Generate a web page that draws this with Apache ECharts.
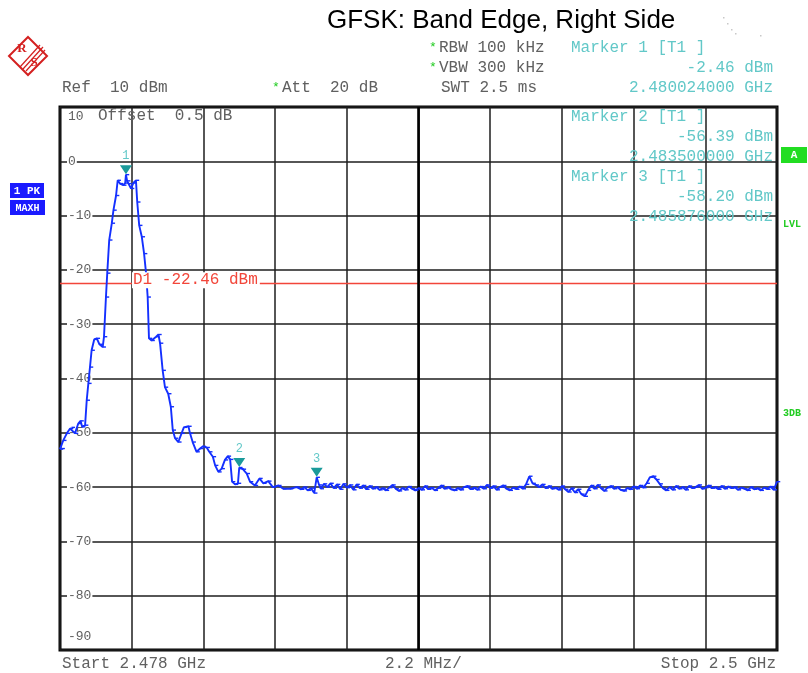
<!DOCTYPE html>
<html>
<head>
<meta charset="utf-8">
<script src="https://cdn.jsdelivr.net/npm/echarts@6/dist/echarts.min.js"></script>
<style>
html,body{margin:0;padding:0;background:#fff;}
#chart{width:808px;height:673px;}
</style>
</head>
<body>
<div id="chart"></div>
<script>
// ---------- data ----------
const chartTitle = 'GFSK: Band Edge, Right Side';
const startMHz = 2478;
const stopMHz = 2500;
const refLevel = 10;
const bottomLevel = -90;
const dbPerDiv = 10;
const freqDivisions = 10;

// main lobe + skirts [MHz, dBm]
const traceMain = [
  [2478.00,-53.0],[2478.05,-52.9],[2478.10,-51.4],[2478.21,-50.1],[2478.31,-49.2],
  [2478.36,-49.0],[2478.46,-50.1],[2478.56,-48.3],[2478.63,-47.8],[2478.68,-48.9],
  [2478.77,-48.6],[2478.82,-44.0],[2478.87,-40.9],[2478.92,-37.9],[2478.97,-34.8],
  [2479.05,-32.8],[2479.13,-32.6],[2479.21,-33.7],[2479.31,-34.2],[2479.35,-32.3],
  [2479.41,-25.0],[2479.45,-20.6],[2479.51,-14.5],[2479.59,-11.4],[2479.64,-9.0],
  [2479.72,-6.3],[2479.77,-3.5],[2479.84,-4.1],[2479.94,-4.4],[2480.00,-4.0],
  [2480.024,-2.46],[2480.06,-3.6],[2480.10,-4.1],[2480.18,-5.0],[2480.25,-4.0],
  [2480.33,-3.5],[2480.37,-7.5],[2480.43,-11.8],[2480.51,-13.9],[2480.58,-17.0],
  [2480.64,-20.6],[2480.69,-25.0],[2480.73,-32.6],[2480.81,-33.0],[2480.95,-32.3],
  [2481.02,-31.9],[2481.07,-33.5],[2481.15,-38.5],[2481.22,-41.6],[2481.32,-42.8],
  [2481.40,-45.2],[2481.46,-49.5],[2481.53,-51.0],[2481.63,-51.7],[2481.73,-50.1],
  [2481.80,-49.0],[2481.94,-48.8],[2481.99,-50.1],[2482.07,-51.7],[2482.19,-53.5],
  [2482.30,-52.9],[2482.38,-52.5],[2482.50,-52.7],[2482.58,-53.5],[2482.69,-54.4],
  [2482.76,-56.0],[2482.86,-57.2],[2482.96,-56.6],[2483.06,-55.0],[2483.15,-54.3],
  [2483.22,-54.9],[2483.28,-59.0],[2483.37,-59.5],[2483.46,-59.3],[2483.50,-56.39],
  [2483.53,-56.6],[2483.61,-56.7],[2483.73,-57.5],[2483.83,-59.0],[2483.98,-59.7],
  [2484.12,-58.4],[2484.24,-59.3],[2484.39,-58.9],[2484.53,-60.0],[2484.70,-59.7],
  [2484.85,-60.3],[2485.06,-60.3],[2485.26,-60.0]
];

// noise floor [MHz, dBm]
const traceFloor = [
  [2485.4,-60.4],[2485.5,-60.0],[2485.6,-60.6],[2485.7,-60.2],[2485.8,-61.1],
  [2485.876,-58.2],[2485.95,-59.6],[2486.0,-60.3],[2486.1,-59.4],[2486.2,-60.0],
  [2486.3,-59.3],[2486.4,-60.2],[2486.5,-59.5],[2486.6,-60.4],[2486.7,-59.4],
  [2486.8,-60.1],[2486.9,-59.6],[2487.0,-60.5],[2487.1,-59.5],[2487.2,-60.2],
  [2487.3,-59.7],[2487.4,-60.4],[2487.5,-59.8],[2487.6,-60.3],[2487.7,-60.0],
  [2487.8,-60.5],[2487.9,-60.2],[2488.0,-60.6],[2488.1,-60.1],[2488.2,-59.6],
  [2488.3,-60.3],[2488.4,-60.7],[2488.5,-60.2],[2488.6,-60.5],[2488.7,-59.9],
  [2488.8,-60.3],[2488.9,-60.6],[2489.0,-60.2],[2489.1,-60.5],[2489.2,-59.8],
  [2489.3,-60.4],[2489.4,-60.1],[2489.5,-60.6],[2489.6,-60.2],[2489.7,-59.7],
  [2489.8,-60.3],[2489.9,-60.0],[2490.0,-60.4],[2490.1,-60.6],[2490.2,-60.2],
  [2490.3,-60.5],[2490.4,-60.0],[2490.5,-59.8],[2490.6,-60.4],[2490.7,-60.1],
  [2490.8,-60.5],[2490.9,-59.9],[2491.0,-60.3],[2491.1,-59.6],[2491.2,-60.2],
  [2491.3,-59.8],[2491.4,-60.5],[2491.5,-60.0],[2491.6,-59.7],[2491.7,-60.3],
  [2491.8,-60.6],[2491.9,-60.1],[2492.0,-60.4],[2492.1,-59.9],[2492.2,-60.3],
  [2492.3,-59.5],[2492.4,-58.0],[2492.5,-59.3],[2492.6,-59.6],[2492.7,-60.0],
  [2492.8,-59.5],[2492.9,-60.2],[2493.0,-59.8],[2493.1,-60.3],[2493.2,-60.1],
  [2493.3,-60.5],[2493.4,-59.8],[2493.5,-60.4],[2493.6,-60.9],[2493.7,-60.2],
  [2493.8,-61.0],[2493.9,-60.4],[2494.0,-61.3],[2494.1,-61.7],[2494.2,-60.6],
  [2494.3,-59.7],[2494.4,-60.3],[2494.5,-59.6],[2494.6,-60.2],[2494.7,-60.7],
  [2494.8,-60.1],[2494.9,-59.8],[2495.0,-60.3],[2495.1,-60.0],[2495.2,-60.5],
  [2495.3,-60.7],[2495.4,-60.2],[2495.5,-60.4],[2495.6,-59.9],[2495.7,-60.3],
  [2495.8,-59.7],[2495.9,-60.1],[2496.0,-59.3],[2496.1,-58.2],[2496.2,-58.0],
  [2496.3,-58.6],[2496.4,-59.4],[2496.5,-60.2],[2496.6,-60.6],[2496.7,-60.0],
  [2496.8,-60.5],[2496.9,-59.8],[2497.0,-60.3],[2497.1,-60.0],[2497.2,-60.5],
  [2497.3,-59.8],[2497.4,-60.2],[2497.5,-60.0],[2497.6,-59.6],[2497.7,-60.3],
  [2497.8,-60.1],[2497.9,-59.7],[2498.0,-60.2],[2498.1,-60.0],[2498.2,-60.4],
  [2498.3,-59.8],[2498.4,-60.3],[2498.5,-59.9],[2498.6,-60.2],[2498.7,-60.0],
  [2498.8,-60.5],[2498.9,-60.1],[2499.0,-60.3],[2499.1,-60.6],[2499.2,-60.0],
  [2499.3,-60.4],[2499.4,-60.2],[2499.5,-60.6],[2499.6,-60.1],[2499.7,-60.4],
  [2499.8,-59.9],[2499.9,-60.5],[2500.0,-59.0]
];

const markerNames = ['1','2','3'];
const markerFreqMHz = [2480.024, 2483.5, 2485.876];
const markerLevels = [-2.46, -56.39, -58.20];
const displayLineLevel = -22.46;
const centerFreqMHz = 2489;

// header / annotation texts
const headerTexts = {
  rbw: 'RBW 100 kHz', vbw: 'VBW 300 kHz', ref: 'Ref  10 dBm', att: 'Att  20 dB', swt: 'SWT 2.5 ms',
  offset: 'Offset  0.5 dB', start: 'Start 2.478 GHz', span: '2.2 MHz/', stop: 'Stop 2.5 GHz'
};
const markerTexts = [
  ['Marker 1 [T1 ]', '-2.46 dBm', '2.480024000 GHz'],
  ['Marker 2 [T1 ]', '-56.39 dBm', '2.483500000 GHz'],
  ['Marker 3 [T1 ]', '-58.20 dBm', '2.485876000 GHz']
];

// ---------- chart ----------
const MONO = '"Liberation Mono", "DejaVu Sans Mono", monospace';
const GRAY = '#606060';
const TEAL = '#62c8c8';
const chart = echarts.init(document.getElementById('chart'), null, {renderer: 'canvas'});

const option = {
  animation: false,
  backgroundColor: '#ffffff',
  grid: {left: 60, right: 31, top: 107, bottom: 23, show: true, borderColor: '#000', borderWidth: 3, backgroundColor: '#fff', z: 0},
  xAxis: [
    {type: 'value', min: startMHz, max: stopMHz, show: true,
      axisLine: {show: false}, axisTick: {show: false}, axisLabel: {show: false}, splitLine: {show: false}},
    {type: 'value', min: 0, max: freqDivisions, interval: 1, show: true,
      axisLine: {show: false}, axisTick: {show: false}, axisLabel: {show: false},
      splitLine: {show: true, lineStyle: {color: '#1e1e1e', width: 1.5}}}
  ],
  yAxis: {
    type: 'value', min: bottomLevel, max: refLevel, interval: dbPerDiv,
    axisLine: {show: false}, axisTick: {show: false},
    splitLine: {show: true, lineStyle: {color: '#1e1e1e', width: 1.5}},
    axisLabel: {
      inside: true, margin: 7,
      formatter: function (v) {
        if (v === refLevel) return '{t|' + v + '}';
        if (v === bottomLevel) return '{b|' + v + '}';
        return '{n|' + v + '}';
      },
      rich: {
        n: {fontFamily: MONO, fontSize: 13, color: GRAY, backgroundColor: '#fff', padding: [0, 1, 0, 1]},
        t: {fontFamily: MONO, fontSize: 13, color: GRAY, padding: [20, 0, 0, 1]},
        b: {fontFamily: MONO, fontSize: 13, color: GRAY, padding: [0, 0, 26, 1]}
      }
    },
    z: 1
  },
  series: [{
    type: 'line',
    xAxisIndex: 0,
    data: traceMain.concat(traceFloor),
    showSymbol: true,
    symbol: 'rect',
    symbolSize: [3.5, 1.4],
    symbolOffset: [1.5, 0],
    itemStyle: {color: '#1430ff'},
    lineStyle: {color: '#1430ff', width: 1.9},
    z: 5,
    markLine: {
      silent: true,
      symbol: 'none',
      label: {show: false},
      data: [
        {yAxis: displayLineLevel, lineStyle: {color: '#f2463a', width: 1.4, type: 'solid'}},
        {xAxis: centerFreqMHz, lineStyle: {color: '#000', width: 2.6, type: 'solid'}}
      ],
      z: 3
    },
    markPoint: {
      symbol: 'triangle',
      symbolRotate: 180,
      symbolSize: [12, 9],
      symbolOffset: [0, -5],
      itemStyle: {color: '#1a9a9a'},
      label: {show: true, position: 'top', distance: 3, formatter: '{b}', color: TEAL, fontFamily: MONO, fontSize: 12},
      data: markerNames.map((n, i) => ({name: n, coord: [markerFreqMHz[i], markerLevels[i]]})),
      z: 6
    }
  }]
};
chart.setOption(option);

// ---------- annotations ----------
const dlPix = chart.convertToPixel({xAxisIndex: 0, yAxisIndex: 0}, [startMHz, displayLineLevel]);
function txt(x, y, text, opts) {
  opts = opts || {};
  return {type: 'text', x: x, y: y, z: opts.z || 50, silent: true,
    style: Object.assign({text: text, fontFamily: MONO, fontSize: 16, fill: GRAY, align: 'left', verticalAlign: 'middle'}, opts.style || {})};
}
const g = [];
// title
g.push(txt(327, 21, chartTitle, {style: {fontFamily: '"Liberation Sans", Arial, sans-serif', fontSize: 26, fill: '#000'}}));
// faint specks top-right
[[723,17],[727,23],[731,29],[735,33],[760,35]].forEach(p => g.push({type:'rect', shape:{x:p[0],y:p[1],width:1.5,height:1.5}, style:{fill:'#c8c8c8'}, silent:true}));
// header rows
g.push(txt(429, 48, '*', {style: {fill: '#22cc22', fontSize: 13}}));
g.push(txt(439, 48, headerTexts.rbw));
g.push(txt(429, 68, '*', {style: {fill: '#22cc22', fontSize: 13}}));
g.push(txt(439, 68, headerTexts.vbw));
g.push(txt(62, 88, headerTexts.ref));
g.push(txt(272, 88, '*', {style: {fill: '#22cc22', fontSize: 13}}));
g.push(txt(282, 88, headerTexts.att));
g.push(txt(441, 88, headerTexts.swt));
// marker readouts
const mRows = [[48, 68, 88], [117, 137, 157], [177, 197, 217]];
markerTexts.forEach((m, i) => {
  g.push(txt(571, mRows[i][0], m[0], {style: {fill: TEAL}}));
  g.push(txt(773, mRows[i][1], m[1], {style: {fill: TEAL, align: 'right'}}));
  g.push(txt(773, mRows[i][2], m[2], {style: {fill: TEAL, align: 'right'}}));
});
// offset
g.push(txt(98, 116, headerTexts.offset));
// display line label
g.push(txt(132, dlPix[1] - 3, 'D1 -22.46 dBm', {style: {fill: '#f2463a', backgroundColor: '#fff', padding: [0, 2, 0, 1]}}));
// footer
g.push(txt(62, 664, headerTexts.start));
g.push(txt(385, 664, headerTexts.span));
g.push(txt(776, 664, headerTexts.stop, {style: {align: 'right'}}));
// left trace boxes
g.push({type: 'rect', shape: {x: 10, y: 183, width: 34, height: 15}, style: {fill: '#1a1aff'}, silent: true});
g.push(txt(27, 191, '1 PK', {style: {fill: '#fff', fontSize: 11, fontWeight: 'bold', align: 'center'}}));
g.push({type: 'rect', shape: {x: 10, y: 200, width: 35, height: 15}, style: {fill: '#1a1aff'}, silent: true});
g.push(txt(27.5, 208, 'MAXH', {style: {fill: '#fff', fontSize: 10, fontWeight: 'bold', align: 'center'}}));
// right status
g.push({type: 'rect', shape: {x: 781, y: 147, width: 26, height: 16}, style: {fill: '#22dd22'}, silent: true});
g.push(txt(794, 155, 'A', {style: {fill: '#fff', fontSize: 11, fontWeight: 'bold', align: 'center'}}));
g.push(txt(783, 224, 'LVL', {style: {fill: '#22cc22', fontSize: 10, fontWeight: 'bold'}}));
g.push(txt(783, 413, '3DB', {style: {fill: '#22cc22', fontSize: 10, fontWeight: 'bold'}}));
// R&S logo
g.push({type: 'polygon', shape: {points: [[28, 37], [47, 56], [28, 75], [9, 56]]}, style: {fill: 'none', stroke: '#d42020', lineWidth: 2}, silent: true});
g.push({type: 'line', shape: {x1: 20, y1: 67, x2: 40, y2: 45}, style: {stroke: '#d42020', lineWidth: 1.2}, silent: true});
g.push({type: 'line', shape: {x1: 23, y1: 69, x2: 43, y2: 47}, style: {stroke: '#d42020', lineWidth: 1.2}, silent: true});
g.push({type: 'line', shape: {x1: 26, y1: 71, x2: 45, y2: 50}, style: {stroke: '#d42020', lineWidth: 1.2}, silent: true});
g.push(txt(22, 49, 'R', {style: {fill: '#d42020', fontFamily: '"Liberation Serif", serif', fontSize: 13, fontWeight: 'bold', align: 'center'}}));
g.push(txt(34, 63, 'S', {style: {fill: '#d42020', fontFamily: '"Liberation Serif", serif', fontSize: 13, fontWeight: 'bold', align: 'center'}}));

chart.setOption({graphic: {elements: g}});
</script>
</body>
</html>
